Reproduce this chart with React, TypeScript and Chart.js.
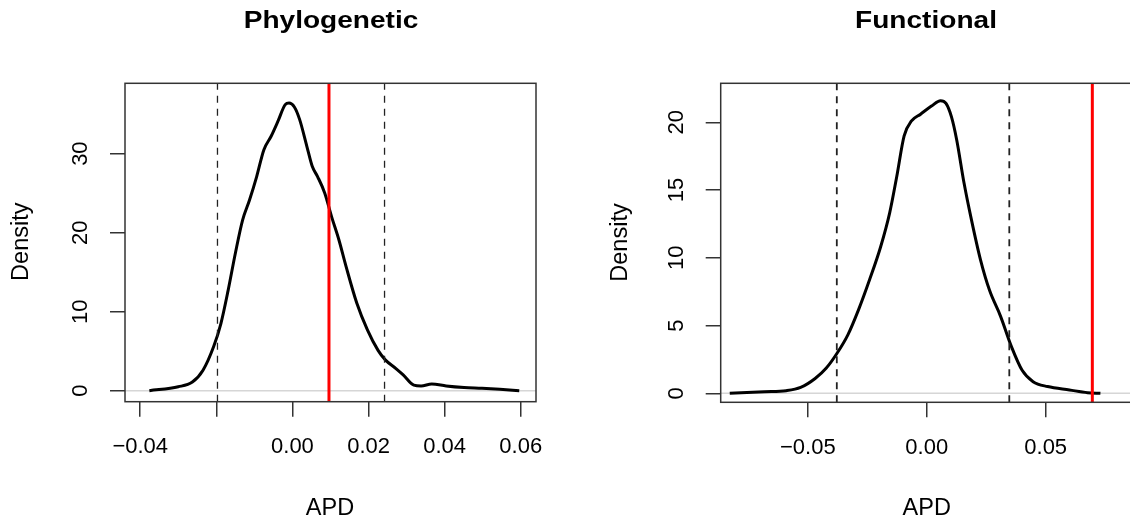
import React, { useEffect, useRef } from 'react';
import { Chart, registerables } from 'chart.js';

Chart.register(...registerables);

// ---------- data ----------
const phyloX = [
  -0.0376, -0.0300, -0.0263, -0.0235, -0.0207, -0.0188, -0.0169, -0.0150, -0.0131,
  -0.0113, -0.0094, -0.0075, -0.0056, -0.0038, -0.0019, -0.0009, 0.0005, 0.0019,
  0.0038, 0.0052, 0.0066, 0.0085, 0.0103, 0.0122, 0.0141, 0.0169, 0.0197, 0.0225,
  0.0244, 0.0272, 0.0291, 0.0319, 0.0338, 0.0366, 0.0404, 0.0451, 0.0498, 0.0545, 0.0596,
];
const phyloY = [
  0.0, 0.5, 1.1, 2.6, 5.6, 8.5, 12.7, 17.4, 21.6,
  24.1, 27.1, 30.5, 32.2, 34.1, 36.2, 36.4, 35.9, 34.3,
  30.9, 28.4, 27.1, 25.0, 22.0, 19.1, 15.7, 11.1, 7.7, 5.1,
  3.9, 2.8, 2.0, 0.7, 0.6, 0.85, 0.6, 0.4, 0.3, 0.17, 0.0,
];
const phyloObserved = 0.0096;
const phyloQuantiles = [-0.0197, 0.0242];
const phyloXTickValues = [-0.04, -0.02, 0.0, 0.02, 0.04, 0.06];
const phyloXTickLabels = ['\u22120.04', '', '0.00', '0.02', '0.04', '0.06'];
const phyloYTickValues = [0, 10, 20, 30];
const phyloYTickLabels = ['0', '10', '20', '30'];

const funcX = [
  -0.0828, -0.0683, -0.0591, -0.0530, -0.0469, -0.0423, -0.0377, -0.0332, -0.0286,
  -0.0240, -0.0194, -0.0156, -0.0126, -0.0095, -0.0064, -0.0026, 0.0020, 0.0058,
  0.0081, 0.0104, 0.0126, 0.0157, 0.0188, 0.0226, 0.0264, 0.0310, 0.0356, 0.0401,
  0.0447, 0.0508, 0.0600, 0.0676, 0.0730,
];
const funcY = [
  0.0, 0.12, 0.2, 0.44, 1.1, 1.85, 2.96, 4.3, 6.2,
  8.4, 10.8, 13.3, 16.0, 19.0, 20.1, 20.6, 21.2, 21.6,
  21.4, 20.4, 18.7, 15.5, 12.8, 9.85, 7.6, 5.7, 3.45, 1.7,
  0.86, 0.5, 0.25, 0.05, 0.0,
];
const funcObserved = 0.0696;
const funcQuantiles = [-0.0378, 0.0347];
const funcXTickValues = [-0.05, 0.0, 0.05];
const funcXTickLabels = ['\u22120.05', '0.00', '0.05'];
const funcYTickValues = [0, 5, 10, 15, 20];
const funcYTickLabels = ['0', '5', '10', '15', '20'];

const FONT = '"Liberation Sans", Arial, Helvetica, sans-serif';

type PanelSpec = {
  title: string;
  xs: number[];
  ys: number[];
  observed: number;
  quantiles: number[];
  xTickValues: number[];
  xTickLabels: string[];
  yTickValues: number[];
  yTickLabels: string[];
  xMin: number; xMax: number; yMin: number; yMax: number;
  canvasW: number; canvasH: number;
  areaLeft: number; areaTop: number; areaBottom: number; padRight: number;
  titleX: number; titleY: number;
  xTitleX: number; xTitleY: number;
  yTitleX: number; yTitleY: number;
  xTickPad: number;
  yTickPad: number;
  dashWidth: number;
};

function makeConfig(p: PanelSpec): any {
  const curve = p.xs.map((x, i) => ({ x, y: p.ys[i] }));
  const datasets: any[] = [
    {
      label: 'zero',
      data: [{ x: p.xMin, y: 0 }, { x: p.xMax, y: 0 }],
      borderColor: '#d6d6d6',
      borderWidth: 1.5,
      pointRadius: 0,
      order: 10,
    },
    {
      label: 'density',
      data: curve,
      borderColor: '#000000',
      borderWidth: 3,
      pointRadius: 0,
      cubicInterpolationMode: 'monotone',
      order: 5,
    },
    ...p.quantiles.map((q) => ({
      label: 'quantile',
      data: [{ x: q, y: p.yMin }, { x: q, y: p.yMax }],
      borderColor: '#222222',
      borderWidth: p.dashWidth,
      borderDash: [7, 6],
      pointRadius: 0,
      order: 3,
    })),
    {
      label: 'observed',
      data: [{ x: p.observed, y: p.yMin }, { x: p.observed, y: p.yMax }],
      borderColor: '#ff0000',
      borderWidth: 3,
      pointRadius: 0,
      order: 1,
    },
  ];

  const decor = {
    id: 'decor',
    afterDatasetsDraw(chart: any) {
      const { ctx, chartArea } = chart;
      ctx.save();
      ctx.strokeStyle = '#333333';
      ctx.lineWidth = 1.5;
      ctx.strokeRect(chartArea.left, chartArea.top, chartArea.right - chartArea.left, chartArea.bottom - chartArea.top);
      ctx.restore();
    },
    afterDraw(chart: any) {
      const { ctx } = chart;
      ctx.save();
      ctx.fillStyle = '#000000';
      ctx.textAlign = 'center';
      ctx.textBaseline = 'alphabetic';
      // main title
      ctx.save();
      ctx.translate(p.titleX, p.titleY);
      ctx.scale(1.22, 1);
      ctx.font = `bold 23px ${FONT}`;
      ctx.fillText(p.title, 0, 0);
      ctx.restore();
      // x axis title
      ctx.font = `23.5px ${FONT}`;
      ctx.fillText('APD', p.xTitleX, p.xTitleY);
      // y axis title
      ctx.translate(p.yTitleX, p.yTitleY);
      ctx.rotate(-Math.PI / 2);
      ctx.fillText('Density', 0, 0);
      ctx.restore();
    },
  };

  return {
    type: 'line',
    data: { datasets },
    plugins: [decor],
    options: {
      animation: false,
      responsive: false,
      devicePixelRatio: 1,
      layout: { padding: { left: 0, top: p.areaTop, right: p.padRight, bottom: 0 } },
      plugins: { legend: { display: false }, tooltip: { enabled: false }, title: { display: false } },
      scales: {
        x: {
          type: 'linear',
          min: p.xMin,
          max: p.xMax,
          afterBuildTicks: (scale: any) => {
            scale.ticks = p.xTickValues.map((v) => ({ value: v }));
          },
          afterFit: (scale: any) => {
            scale.height = p.canvasH - p.areaBottom;
          },
          grid: { drawOnChartArea: false, drawTicks: true, tickLength: 15, color: '#333333', lineWidth: 1.5 },
          border: { display: false },
          ticks: {
            autoSkip: false,
            maxRotation: 0,
            minRotation: 0,
            padding: p.xTickPad,
            color: '#000000',
            font: { family: FONT, size: 22 },
            callback: (_v: any, i: number) => p.xTickLabels[i],
          },
        },
        y: {
          type: 'linear',
          min: p.yMin,
          max: p.yMax,
          afterBuildTicks: (scale: any) => {
            scale.ticks = p.yTickValues.map((v) => ({ value: v }));
          },
          afterFit: (scale: any) => {
            scale.width = p.areaLeft;
          },
          grid: { drawOnChartArea: false, drawTicks: true, tickLength: 15, color: '#333333', lineWidth: 1.5 },
          border: { display: false },
          ticks: {
            autoSkip: false,
            minRotation: 90,
            maxRotation: 90,
            crossAlign: 'center',
            padding: p.yTickPad,
            color: '#000000',
            font: { family: FONT, size: 22 },
            callback: (_v: any, i: number) => p.yTickLabels[i],
          },
        },
      },
    },
  };
}

const leftSpec: PanelSpec = {
  title: 'Phylogenetic',
  xs: phyloX, ys: phyloY, observed: phyloObserved, quantiles: phyloQuantiles,
  xTickValues: phyloXTickValues, xTickLabels: phyloXTickLabels,
  yTickValues: phyloYTickValues, yTickLabels: phyloYTickLabels,
  xMin: -0.0440, xMax: 0.0640, yMin: -1.39, yMax: 38.9,
  canvasW: 560, canvasH: 521,
  areaLeft: 125, areaTop: 83.3, areaBottom: 401.7, padRight: 24,
  titleX: 331, titleY: 28.3,
  xTitleX: 330, xTitleY: 514.5,
  yTitleX: 28.3, yTitleY: 241.7,
  xTickPad: 16.8,
  yTickPad: 16.5,
  dashWidth: 1.3,
};

const rightSpec: PanelSpec = {
  title: 'Functional',
  xs: funcX, ys: funcY, observed: funcObserved, quantiles: funcQuantiles,
  xTickValues: funcXTickValues, xTickLabels: funcXTickLabels,
  yTickValues: funcYTickValues, yTickLabels: funcYTickLabels,
  xMin: -0.0866, xMax: 0.0864, yMin: -0.66, yMax: 22.88,
  canvasW: 580, canvasH: 521,
  areaLeft: 160.7, areaTop: 83.3, areaBottom: 402.3, padRight: 7.7,
  titleX: 366, titleY: 28.3,
  xTitleX: 366.7, xTitleY: 514.5,
  yTitleX: 66.5, yTitleY: 242.5,
  xTickPad: 17,
  yTickPad: 16.8,
  dashWidth: 1.8,
};

export default function App() {
  const leftRef = useRef<HTMLCanvasElement | null>(null);
  const rightRef = useRef<HTMLCanvasElement | null>(null);

  useEffect(() => {
    const charts: Chart[] = [];
    if (leftRef.current) charts.push(new Chart(leftRef.current, makeConfig(leftSpec)));
    if (rightRef.current) charts.push(new Chart(rightRef.current, makeConfig(rightSpec)));
    return () => charts.forEach((c) => c.destroy());
  }, []);

  return (
    <div style={{ position: 'fixed', left: 0, top: 0, width: 1130, height: 521, overflow: 'hidden', background: '#ffffff' }}>
      <canvas
        ref={leftRef}
        width={leftSpec.canvasW}
        height={leftSpec.canvasH}
        style={{ position: 'absolute', left: 0, top: 0, width: leftSpec.canvasW, height: leftSpec.canvasH }}
      />
      <canvas
        ref={rightRef}
        width={rightSpec.canvasW}
        height={rightSpec.canvasH}
        style={{ position: 'absolute', left: 560, top: 0, width: rightSpec.canvasW, height: rightSpec.canvasH }}
      />
    </div>
  );
}
